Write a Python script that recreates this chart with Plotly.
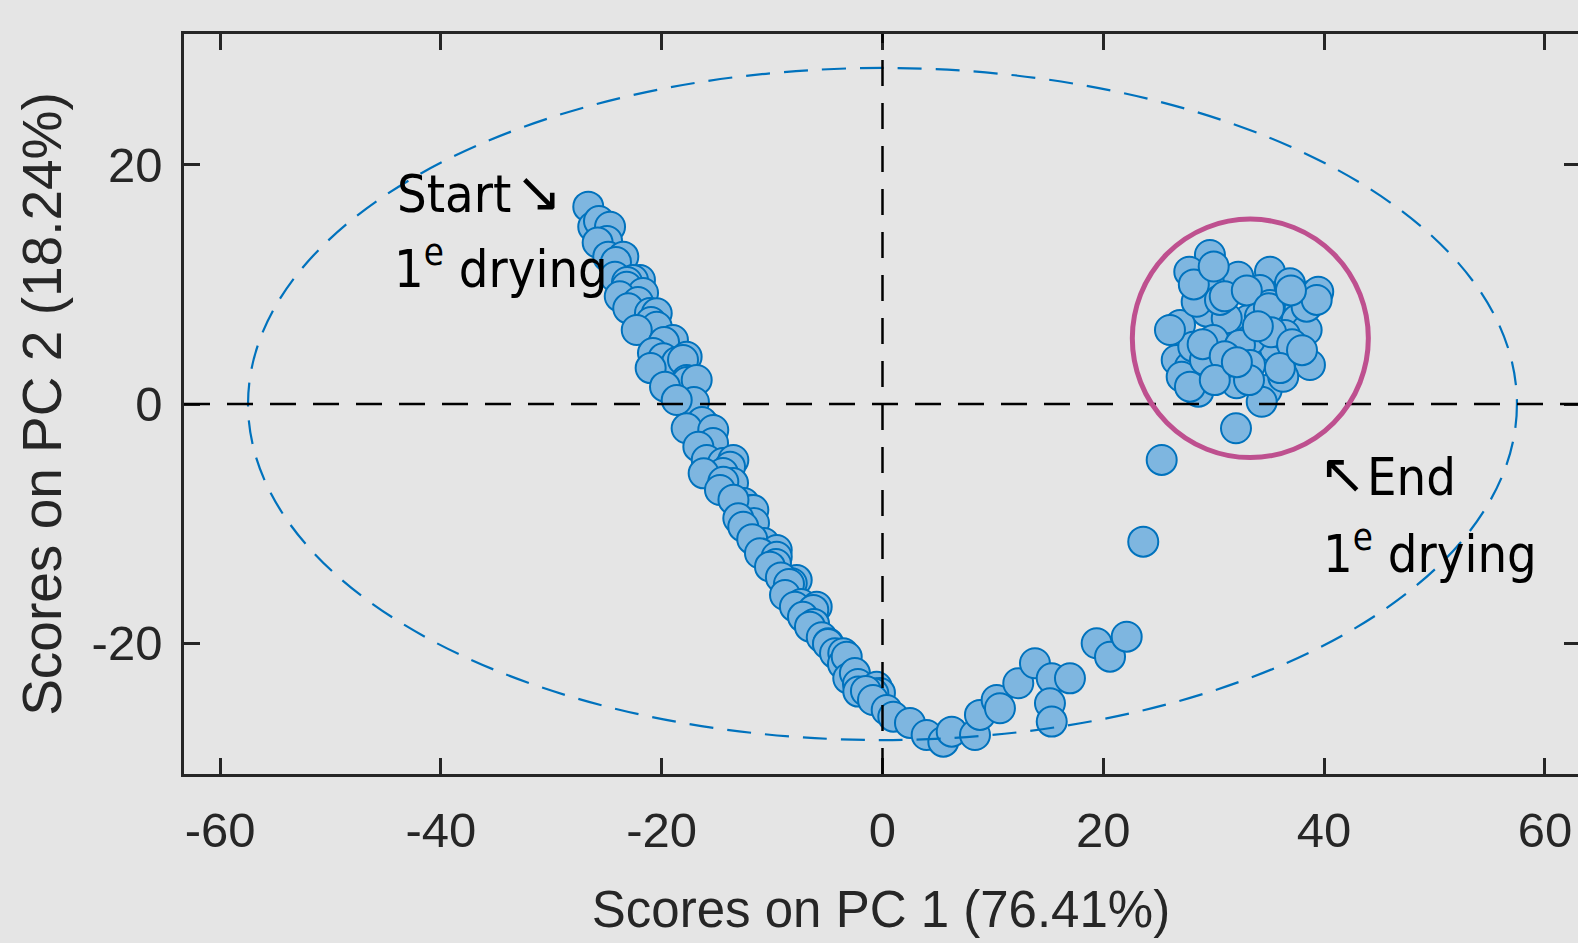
import plotly.graph_objects as go

# ---- data (scores) ----
# trajectory: start of 1st drying -> turning point -> end cluster
PC1 = [-26.65, -26.20, -25.32, -25.68, -24.68, -24.95, -25.80, -24.84, -23.48, -24.14,
       -24.23, -21.97, -22.60, -23.14, -23.17, -21.69, -23.80, -22.15, -23.03, -21.06,
       -20.45, -20.97, -20.45, -22.26, -18.98, -19.79, -20.79, -17.74, -19.86, -18.61,
       -18.07, -21.00, -17.74, -17.71, -16.83, -19.70, -17.08, -18.64, -15.92, -16.35,
       -17.74, -15.33, -15.35, -16.68, -15.92, -14.45, -13.51, -13.81, -14.45, -16.20,
       -13.54, -14.42, -14.72, -12.55, -12.00, -11.70, -13.50, -11.64, -13.06, -12.61,
       -10.73, -11.80, -9.58, -11.10, -9.58, -9.65, -10.19, -7.77, -8.22, -9.20,
       -8.47, -8.83, -7.38, -7.93, -5.96, -6.27, -7.20, -6.20, -6.57, -5.50,
       -4.91, -4.94, -4.30, -3.55, -3.58, -3.24, -3.10, -2.50, -2.22, -0.53,
       -2.19, -0.23, -0.83, -1.50, -0.86, 0.38, 0.98, 2.49, 4.00, 5.51,
       6.27, 8.38, 8.83, 10.34, 10.64, 12.30, 13.81, 15.33, 16.98, 15.17,
       15.33, 19.40, 20.61, 22.12, 23.62, 25.29, 32.02,
       29.66, 27.79, 30.42, 32.23, 35.10, 36.16, 39.02, 39.47, 29.37, 33.13,
       26.95, 28.46, 31.18, 35.55, 37.21, 38.72, 31.63, 34.80, 34.35, 28.61,
       26.65, 27.85, 29.96, 33.29, 37.52, 38.42, 27.10, 32.08, 36.30, 34.19,
       28.15, 26.04, 36.91, 34.19, 27.85, 30.87, 38.42, 39.33, 32.38, 30.57,
       36.46, 29.21, 33.29, 35.10, 28.20, 31.00, 33.00, 35.00, 37.00, 29.00,
       31.00, 33.20, 35.20, 37.10, 30.10, 32.10, 30.00, 36.00, 38.00, 34.00]
PC2 = [16.50, 14.82, 14.80, 15.30, 14.82, 13.63, 13.50, 12.32, 12.32, 11.87,
       10.64, 10.37, 10.37, 10.20, 9.81, 9.28, 9.00, 8.53, 8.00, 7.61,
       7.58, 6.86, 6.46, 6.19, 5.35, 5.18, 4.26, 3.95, 3.82, 3.51,
       3.68, 3.00, 2.01, 1.84, 2.01, 1.45, 0.17, 0.33, -1.90, -1.51,
       -2.03, -2.17, -3.26, -3.57, -4.68, -4.93, -4.68, -5.24, -5.77, -5.80,
       -6.61, -6.50, -7.19, -8.28, -8.86, -8.86, -8.00, -9.95, -9.56, -10.26,
       -11.62, -11.30, -12.21, -12.48, -12.77, -13.38, -13.60, -14.72, -14.99, -14.50,
       -15.05, -15.97, -16.72, -16.95, -16.95, -17.22, -17.80, -18.39, -18.62, -19.50,
       -20.01, -20.07, -20.84, -20.84, -21.74, -21.13, -22.94, -22.50, -23.41, -23.64,
       -24.05, -24.16, -24.19, -24.00, -24.75, -25.59, -26.15, -26.67, -27.68, -28.24,
       -27.40, -27.68, -26.00, -24.75, -25.44, -23.35, -21.68, -22.94, -22.94, -25.03,
       -26.56, -20.01, -21.13, -19.46, -11.51, -4.68, -2.03,
       12.46, 11.06, 10.37, 10.64, 11.06, 9.11, 9.11, 9.39, 7.72, 7.02,
       6.61, 8.55, 7.17, 4.66, 3.54, 3.26, 2.42, 1.17, 0.19, 1.03,
       3.68, 3.12, 5.35, 5.35, 7.02, 6.19, 2.28, 1.73, 2.28, 9.53,
       4.79, 6.19, 10.09, 7.30, 1.45, 3.40, 8.14, 8.70, 4.93, 8.70,
       5.77, 3.68, 3.26, 8.28, 10.00, 9.00, 9.50, 8.00, 9.50, 5.00,
       4.00, 2.00, 6.00, 5.00, 2.00, 3.50, 11.50, 3.00, 4.50, 6.50]

X_TICKS = [-60, -40, -20, 0, 20, 40, 60]
X_TICK_LABELS = ["-60", "-40", "-20", "0", "20", "40", "60"]
Y_TICKS = [-20, 0, 20]
Y_TICK_LABELS = ["-20", "0", "20"]
X_RANGE = [-63.27, 63.0]
Y_RANGE = [-30.94, 30.94]

# 95% confidence ellipse semi-axes (centred at origin)
ELL_A = 57.47
ELL_B = 28.1
# highlight circle around end cluster
END_CX, END_CY, END_RX, END_RY = 33.32, 5.49, 10.69, 9.97

X_TITLE = "Scores on PC 1 (76.41%)"
Y_TITLE = "Scores on PC 2 (18.24%)"

BG = "#E5E5E5"
AX = "#262626"
BLUE = "#0072BD"
FILL = "#7EB6E0"
MAGENTA = "#BE508F"
ANN_FONT = "Liberation Sans Narrow, Arial Narrow, DejaVu Sans Condensed, sans-serif"
ARROW_FONT = "DejaVu Sans, sans-serif"
AXIS_FONT = "Liberation Sans, Arial, sans-serif"

fig = go.Figure()
fig.add_trace(go.Scatter(
    x=PC1, y=PC2, mode="markers",
    marker=dict(size=30, color=FILL, line=dict(color=BLUE, width=2)),
    showlegend=False, hoverinfo="skip"))
fig.add_trace(go.Scatter(x=[X_RANGE[0]], y=[Y_RANGE[0]], mode="markers",
                         marker=dict(opacity=0), yaxis="y2",
                         showlegend=False, hoverinfo="skip"))

fig.add_shape(type="circle", xref="x", yref="y",
              x0=-ELL_A, x1=ELL_A, y0=-ELL_B, y1=ELL_B,
              line=dict(color=BLUE, width=2.2, dash="24px,14px"), layer="above")
fig.add_shape(type="line", xref="x", yref="paper", x0=0, x1=0, y0=0, y1=1,
              line=dict(color="black", width=2.5, dash="26px,17px"), layer="above")
fig.add_shape(type="line", xref="paper", yref="y", x0=0, x1=1, y0=0, y1=0,
              line=dict(color="black", width=2.5, dash="26px,17px"), layer="above")
fig.add_shape(type="circle", xref="x", yref="y",
              x0=END_CX - END_RX, x1=END_CX + END_RX,
              y0=END_CY - END_RY, y1=END_CY + END_RY,
              line=dict(color=MAGENTA, width=5), layer="above")

# text labels
texts = [
    ("Start", -44.2, 17.53, "left"),
    ("1<sup>e</sup> drying", -44.43, 11.59, "left"),
    ("End", 43.70, -6.14, "left"),
    ("1<sup>e</sup> drying", 39.71, -12.24, "left"),
]
for txt, ax_, ay_, anc in texts:
    fig.add_annotation(text=txt, x=ax_, y=ay_, xref="x", yref="y",
                       xanchor=anc, yanchor="middle", showarrow=False,
                       font=dict(family=ANN_FONT, size=52, color="black"))
# arrow glyphs
arrows = [("\u2198", -31.14, 17.73), ("\u2196", 41.71, -5.81)]
for txt, ax_, ay_ in arrows:
    fig.add_annotation(text=txt, x=ax_, y=ay_, xref="x", yref="y",
                       xanchor="center", yanchor="middle", showarrow=False,
                       font=dict(family=ARROW_FONT, size=56, color="black"))

axis_common = dict(showgrid=False, zeroline=False, ticks="inside", ticklen=16,
                   tickwidth=2.5, tickcolor=AX, linecolor=AX, linewidth=2.5,
                   tickfont=dict(family=AXIS_FONT, size=49, color=AX))
fig.update_layout(
    width=1578, height=943,
    margin=dict(l=184, r=0, t=34, b=169),
    paper_bgcolor=BG, plot_bgcolor=BG,
    xaxis=dict(range=X_RANGE, tickvals=X_TICKS, ticktext=X_TICK_LABELS,
               showline=True, mirror="ticks", ticklabelstandoff=11,
               title=dict(text=X_TITLE, standoff=36,
                          font=dict(family=AXIS_FONT, size=51, color=AX)),
               **axis_common),
    yaxis=dict(range=Y_RANGE, tickvals=Y_TICKS, ticktext=Y_TICK_LABELS,
               showline=True, mirror=False, ticklabelstandoff=9,
               title=dict(text=Y_TITLE, standoff=13,
                          font=dict(family=AXIS_FONT, size=55, color=AX)),
               **axis_common),
    yaxis2=dict(range=Y_RANGE, tickvals=Y_TICKS, overlaying="y", side="right",
                showline=False, showticklabels=False, showgrid=False, zeroline=False,
                ticks="inside", ticklen=14, tickwidth=2.5, tickcolor=AX),
)
fig.write_html("out.html")
